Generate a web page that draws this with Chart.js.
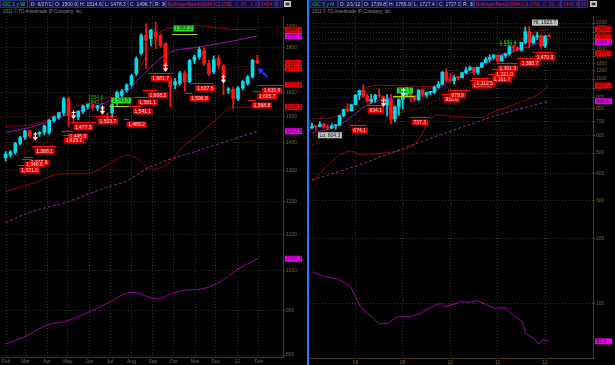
<!DOCTYPE html>
<html>
<head>
<meta charset="utf-8">
<script src="https://cdn.jsdelivr.net/npm/chart.js@4"></script>
<style>
  html, body { margin: 0; padding: 0; background: #000; }
  body { width: 615px; height: 365px; position: relative; overflow: hidden; font-family: "Liberation Sans", Arial, sans-serif; }
  canvas { position: absolute; top: 0; }
  #wk { left: 0; }
  #mo { left: 309px; }
  .cell { position: absolute; top: 0; height: 8px; box-sizing: border-box; border: 1px solid #2c2c7c; background: #0c0c42;
          color: #d4d4d4; font-size: 5px; line-height: 6px; padding: 0 1px; white-space: nowrap; overflow: hidden; }
  .g { color: #22d822; }
  .r { color: #e02020; }
  .copy { position: absolute; top: 9px; font-size: 4.5px; color: #8a8a8a; white-space: nowrap; }
  .icon { position: absolute; top: 1px; width: 7px; height: 6px; background: #9a9a9a; border: 1px solid #cfcfcf; box-sizing: border-box; }
  .icon::after { content: ""; position: absolute; left: 1px; top: 1px; width: 3px; height: 2px; background: #333; }
  #divider { position: absolute; left: 307px; top: 0; width: 2px; height: 365px; background: #1e7cff; }
</style>
</head>
<body>
<canvas id="wk" width="307" height="365"></canvas>
<canvas id="mo" width="306" height="365"></canvas>
<div id="divider"></div>

<div class="cell g" style="left:0;width:28px">/GC 1 y W</div>
<div class="cell" style="left:29px;width:24px">D: 6/27/11</div>
<div class="cell" style="left:53px;width:25px">O: 1500.9</div>
<div class="cell" style="left:78px;width:25px">H: 1514.6</div>
<div class="cell" style="left:103px;width:25px">L: 1478.3</div>
<div class="cell" style="left:128px;width:25px">C: 1496.7</div>
<div class="cell" style="left:153px;width:13px">R: 36.5</div>
<div class="cell r" style="left:166px;width:93px">BollingerBandsSMA (CLOSE, 0, 25, -2.0, 2.0)</div>
<div class="cell r" style="left:259px;width:18px">1454.3</div>
<div class="cell r" style="left:277px;width:6px">1</div>
<div class="icon" style="left:284px"></div>
<div class="copy" style="left:3px">2011 © TD Ameritrade IP Company, Inc.</div>

<div class="cell g" style="left:310px;width:28px">/GC 5 y M</div>
<div class="cell" style="left:338px;width:24px">D: 2/1/12</div>
<div class="cell" style="left:362px;width:25px">O: 1739.8</div>
<div class="cell" style="left:387px;width:25px">H: 1765.9</div>
<div class="cell" style="left:412px;width:25px">L: 1727.4</div>
<div class="cell" style="left:437px;width:24px">C: 1727.9</div>
<div class="cell" style="left:461px;width:13px">R: 38.5</div>
<div class="cell r" style="left:474px;width:87px">BollingerBandsSMA (CLOSE, 0, 25, -2.0, 2.0)</div>
<div class="cell r" style="left:561px;width:18px">1445.9</div>
<div class="cell r" style="left:579px;width:9px">50</div>
<div class="icon" style="left:590px"></div>
<div class="copy" style="left:312px">2011 © TD Ameritrade IP Company, Inc.</div>

<script>
// ---------- weekly panel (1 year, /GC 1 y W) ----------
const wkOpen  = [1346,1356,1365,1398,1420,1445,1426,1433,1439,1439,1484,1497,1515,1572,1509,1499,1521,1540,1549,1534,1540,1501,1515,
                 1559,1588,1609,1632,1680,1772,1859,1843,1876,1859,1819,1659,1631,1638,1683,1645,1740,1756,1784,1725,1688,1749,1713,
                 1609,1612,1572,1618,1638,1666,1740];
const wkHigh  = [1368,1372,1402,1424,1448,1447,1436,1442,1468,1490,1502,1518,1578,1580,1518,1524,1546,1552,1551,1546,1546,1515,1552,
                 1605,1612,1636,1678,1756,1868,1917,1890,1926,1865,1822,1668,1660,1690,1692,1745,1765,1802,1800,1740,1760,1762,1720,
                 1620,1622,1625,1652,1672,1745,1765];
const wkLow   = [1334,1348,1358,1392,1412,1418,1410,1424,1430,1432,1478,1490,1505,1462,1480,1488,1512,1532,1526,1524,1508,1478,1495,
                 1545,1580,1600,1625,1672,1765,1703,1808,1795,1800,1690,1540,1615,1630,1605,1640,1725,1745,1715,1670,1680,1705,1590,
                 1595,1534,1565,1610,1630,1660,1725];
const wkClose = [1359,1367,1398,1420,1445,1426,1414,1439,1464,1486,1499,1515,1572,1503,1497,1521,1544,1549,1536,1544,1515,1496.7,1549,
                 1598,1605,1630,1672,1748,1858,1835,1884,1851,1811,1695,1624,1645,1683,1645,1740,1756,1791,1725,1680,1744,1717,1645,
                 1614,1572,1618,1645,1666,1740,1727.9];

const wkMonthAt = [0.14, 4.14, 8.57, 12.86, 17.29, 21.57, 26, 30.43, 34.71, 39.14, 43.43, 47.86, 52.29];
const wkMonths  = ['Feb', 'Mar', 'Apr', 'May', 'Jun', 'Jul', 'Aug', 'Sep', 'Oct', 'Nov', 'Dec', '12', 'Feb'];
const wkPriceTicks = [800, 900, 1000, 1100, 1200, 1300, 1400, 1500, 1600, 1700, 1800, 1900];

const wkUpperX = [0, 6, 12.9, 19.7, 22, 24.5, 26.6, 29, 32, 37, 40.2, 45, 52];
const wkUpper  = [1462, 1470, 1530, 1570, 1585, 1610, 1660, 1760, 1876, 1902, 1907, 1891, 1886.2];
const wkMidX   = [0, 6, 10, 15.5, 21.8, 26.6, 30, 33.4, 40.2, 45.7, 52];
const wkMid    = [1340, 1380, 1415, 1471, 1515, 1559, 1605, 1645, 1680, 1706, 1712.2];
const wkLowerX = [0, 6, 11.4, 16.6, 20.7, 25.1, 27, 30.3, 33.4, 36.5, 40.2, 43.7, 46.4, 52];
const wkLower  = [1231, 1260, 1290, 1290, 1318, 1355, 1345, 1306, 1324, 1385, 1436, 1493, 1534, 1538.2];
const wkAvgX   = [0, 6, 12.9, 19.7, 25.2, 27.9, 30, 33.4, 40.2, 47.1, 52];
const wkAvg    = [1439, 1463, 1509, 1549, 1605, 1666, 1709, 1772, 1803, 1832, 1855.6];
const wkLongX  = [0, 4.7, 12.9, 17.7, 21.8, 24.4, 30, 40.2, 52];
const wkLong   = [1134, 1164, 1199, 1227, 1250, 1262, 1315, 1374, 1443.5];
const wkSlowX  = [0, 4, 8.8, 12.2, 17, 21.8, 25.9, 31.4, 34.7, 37.5, 40.2, 44.4, 47.8, 52];
const wkSlow   = [824, 840, 867, 874, 895, 922, 944, 928, 943, 950, 952, 971, 1002, 1031.3];

const wkTagText  = ['1,865.2', '1,543.0', '1,681.7', '1,608.2', '1,581.1', '1,541.1', '1,489.2', '1,503.7', '1,477.3', '1,445.0',
                    '1,429.1', '1,388.1', '1,347.9', '1,340.6', '1,321.8', '1,637.6', '1,596.8', '1,631.9', '1,605.7', '1,568.8'];
const wkTagKind  = ['g', 'g', 'r', 'r', 'r', 'r', 'r', 'r', 'r', 'r', 'r', 'r', 'r', 'r', 'r', 'r', 'r', 'r', 'r', 'r'];
const wkTagFrom  = [34.3, 21.4, 29.4, 28.3, 26.5, 25.5, 24.4, 18.3, 13.1, 11.5, 11.9, 5.3, 3.7, 3.3, 2.5, 38.2, 37.2, 52.2, 51.1, 50.1];
const wkTagTo    = [39.6, 26.5, 34.5, 31.4, 29.4, 27.9, 25.5, 22.8, 18.7, 14.0, 13.5, 10.5, 5.7, 5.3, 3.9, 42.9, 38.6, 57.3, 52.6, 51.5];
const wkTagAt    = [34.7, 21.8, 30.0, 29.4, 27.3, 26.3, 25.0, 19.1, 14.0, 12.9, 12.1, 6.0, 4.9, 3.9, 2.9, 39.2, 38.0, 53.0, 52.0, 50.9];
const wkTagPrice = [1865.2, 1543.0, 1681.7, 1608.2, 1581.1, 1541.1, 1489.2, 1503.7, 1477.3, 1445.0, 1429.1, 1388.1, 1347.9, 1340.6,
                    1321.8, 1637.6, 1596.8, 1631.9, 1605.7, 1568.8];
const wkNoteText = ['1554.6', '1543.1'];
const wkNoteAt = [17, 17];
const wkNotePrice = [1578, 1556];
const wkArrows = [6, 14, 20, 33, 45];
const wkAxisVal = [1886.2, 1855.6, 1727.9, 1712.2, 1631.9, 1538.2, 1443.5, 1031.3];
const wkAxisKind = ['r', 'm', 'r', 'r', 'r', 'r', 'm', 'm'];

// ---------- monthly panel (5 years, /GC 5 y M), Feb 2007 .. Feb 2012 ----------
const moOpen  = [652,667,663,680,660,652,668,674,746,795,784,
                 837,926,975,917,866,887,927,917,833,884,718,818,
                 884,928,942,916,884,980,927,955,955,1008,1040,1182,
                 1096,1081,1119,1115,1179,1213,1245,1180,1248,1308,1359,1386,
                 1421,1333,1410,1439,1556,1536,1500,1628,1825,1620,1725,1746,
                 1566,1739.8];
const moHigh  = [690,670,698,690,675,683,678,748,797,848,838,
                 935,977,1033,937,935,935,990,918,934,935,826,890,
                 930,1007,960,917,982,990,959,965,1025,1072,1195,1227,
                 1163,1142,1137,1180,1249,1265,1245,1250,1311,1388,1425,1432,
                 1424,1412,1448,1575,1577,1556,1632,1917,1923.7,1757,1804,1764,
                 1747,1765.9];
const moLow   = [650,637,663,652,642,648,645,670,735,772,782,
                 838,882,905,865,848,860,905,774,740,681,699,749,
                 800,917,865,865,869,913,905,930,940,1001,1035,1074,
                 1072,1044,1086,1114,1165,1202,1155,1157,1242,1308,1330,1360,
                 1308,1328,1380,1417,1462,1478,1480,1603,1535,1601,1673,1522,
                 1537,1727.4];
const moClose = [667,663,680,660,652,668,674,746,795,784,837,
                 926,975,917,866,887,927,917,833,884,718,818,884,
                 928,942,916,884,980,927,955,955,1008,1040,1182,1096,
                 1081,1119,1115,1179,1213,1245,1180,1248,1308,1359,1386,1421,
                 1333,1410,1439,1556,1536,1500,1628,1825,1620,1725,1746,1566,
                 1740,1727.9];

const moYearAt = [11, 23, 35, 47, 59];
const moYears  = ['08', '09', '10', '11', '12'];
const moPriceTicks = [100, 200, 300, 400, 500, 600, 700, 800, 900, 1000, 1100, 1200, 1300, 1400, 1500, 1600, 1700, 1800, 1900, 2000];

const moUpperX = [0, 6.4, 10.6, 13.2, 17.4, 25.8, 31.7, 35.1, 41.8, 45.2, 50.3, 55.4, 60];
const moUpper  = [719, 742, 880, 997, 1029, 1020, 1014, 1128, 1234, 1324, 1527, 1792, 1869];
const moAvgX   = [0, 6.4, 10.6, 13.2, 17.4, 25.8, 31.7, 35.1, 41.8, 45.2, 50.3, 55.4, 60];
const moAvg    = [620, 667, 750, 820, 880, 918, 979, 1089, 1212, 1348, 1473, 1565, 1688.1];
const moLowerX = [0, 6.4, 9.8, 12.4, 17.4, 25.8, 31.7, 35.9, 43.5, 45.2, 48.6, 53.6, 57, 60];
const moLower  = [368, 481, 511, 490, 499, 545, 750, 737, 729, 764, 805, 873, 928, 1027.3];
const moMidX   = [0, 6.4, 10.6, 13.2, 17.4, 25.8, 31.7, 35.9, 41.8, 45.2, 50.3, 55.4, 60];
const moMid    = [545, 610, 680, 730, 755, 790, 880, 930, 1050, 1120, 1260, 1380, 1445.9];
const moLongX  = [0, 10.6, 23.2, 35.9, 48.6, 60];
const moLong   = [375, 432, 526, 639, 764, 868.6];
const moSlowX  = [0, 3, 6.4, 9.8, 12.3, 14, 17, 19, 21.6, 25, 27.5, 30.9, 32.6, 33.4, 35.9, 37.6, 40.2, 41.8, 46.1, 49, 51.1,
                  53.2, 54.1, 56.2, 57.5, 58.5, 60];
const moSlow   = [141, 134, 131, 120, 97, 91, 81, 81, 87, 87.5, 90.5, 98, 100.7, 97, 99.6, 102.5, 101.8, 103.6, 95.5, 96, 88,
                  83, 73, 69, 65, 68.6, 67.1];

const moTagText  = ['921.1', '674.1', '834.1', '737.3', '938.6', '979.9', '1,089.3', '1,112.5', '1,161.7', '1,221.0', '1,301.3',
                    '1,380.7', '1,470.3'];
const moTagKind  = ['g', 'r', 'r', 'r', 'r', 'r', 'r', 'r', 'r', 'r', 'r', 'r', 'r'];
const moTagFrom  = [20.5, 9.6, 13.8, 24.8, 32.9, 34.4, 40.0, 40.5, 44.6, 45.6, 46.8, 51.9, 56.0];
const moTagTo    = [26.1, 13.8, 18.5, 29.9, 35.4, 40.0, 44.6, 45.0, 48.9, 49.6, 52.2, 56.5, 61.0];
const moTagAt    = [21.5, 10.1, 14.2, 25.3, 33.4, 34.9, 40.5, 41.3, 45.6, 46.3, 47.1, 52.7, 56.5];
const moTagPrice = [921.1, 674.1, 834.1, 737.3, 938.6, 979.9, 1089.3, 1112.5, 1161.7, 1221.0, 1301.3, 1380.7, 1470.3];
const moNoteText = ['1,556.4', '1,534.0'];
const moNoteAt = [47.5, 47.5];
const moNotePrice = [1622, 1588];
const moBoxText = ['Hi: 1923.7', 'Lo: 604.3'];
const moBoxAt = [55.7, 1.5];
const moBoxPrice = [1923.7, 604.3];
const moArrows = [18, 23];
const moAxisVal = [1869.0, 1727.9, 1688.1, 1445.9, 1027.3, 868.6, 67.1];
const moAxisKind = ['r', 'r', 'm', 'r', 'r', 'm', 'm'];

// ---------- drawing ----------
const UP = '#00dcec';
const DOWN = '#ff1414';
const TICK = '#7d6a40';
const FONT = '"Liberation Sans", Arial, sans-serif';

function candles(o, h, l, c) {
  const col = c.map((v, i) => (v >= o[i] ? UP : DOWN));
  return [
    { type: 'bar', data: l.map((v, i) => ({ x: i, y: [v, h[i]] })), backgroundColor: col,
      grouped: false, barThickness: 1, order: 2 },
    { type: 'bar', data: o.map((v, i) => ({ x: i, y: [v, c[i]] })), backgroundColor: col,
      grouped: false, barThickness: 3, minBarLength: 1, order: 1 }
  ];
}

function line(xs, ys, color, dash, smooth) {
  return {
    type: 'line', data: xs.map((x, i) => ({ x, y: ys[i] })), borderColor: color, borderWidth: 1,
    borderDash: dash || [], pointRadius: 0, cubicInterpolationMode: smooth ? 'monotone' : 'default',
    tension: 0, order: 5
  };
}

function drawBox(ctx, text, x, y, bg, fg) {
  const w = Math.ceil(ctx.measureText(text).width) + 3;
  ctx.fillStyle = bg;
  ctx.fillRect(x, y, w, 6);
  ctx.fillStyle = fg;
  ctx.fillText(text, x + 1.5, y + 3.3);
  return w;
}

const overlay = {
  id: 'overlay',
  afterDatasetsDraw(chart, args, o) {
    const { ctx, chartArea: a } = chart;
    const xs = chart.scales.x, ys = chart.scales.y;
    ctx.save();
    ctx.beginPath();
    ctx.rect(a.left, a.top, a.right - a.left, a.bottom - a.top);
    ctx.clip();
    ctx.font = '5px ' + FONT;
    ctx.textBaseline = 'middle';

    // level lines with value tags
    o.tagText.forEach((t, n) => {
      const y = Math.round(ys.getPixelForValue(o.tagPrice[n])) + 0.5;
      const x0 = xs.getPixelForValue(o.tagFrom[n]), x1 = xs.getPixelForValue(o.tagTo[n]);
      const bx = xs.getPixelForValue(o.tagAt[n]);
      const green = o.tagKind[n] === 'g';
      ctx.strokeStyle = green ? '#b4d400' : '#ff1010';
      ctx.lineWidth = 1.2;
      ctx.beginPath(); ctx.moveTo(x0, y); ctx.lineTo(x1, y); ctx.stroke();
      if (green) drawBox(ctx, t, bx, y - 9, '#2ee02e', '#063006');
      else drawBox(ctx, t, bx, y + 2, '#e00000', '#ffd8d8');
    });

    // small green study values
    ctx.fillStyle = '#2bb82b';
    o.noteText.forEach((t, n) => ctx.fillText(t, xs.getPixelForValue(o.noteAt[n]), ys.getPixelForValue(o.notePrice[n])));

    // hi / lo bubbles
    (o.boxText || []).forEach((t, n) => {
      const x = xs.getPixelForValue(o.boxAt[n]), y = ys.getPixelForValue(o.boxPrice[n]);
      drawBox(ctx, t, x, n === 0 ? y - 7 : y - 3, '#c4c4c4', '#111');
    });

    // white signal arrows at candle closes
    ctx.strokeStyle = '#ffffff'; ctx.fillStyle = '#ffffff'; ctx.lineWidth = 1;
    o.arrows.forEach((i) => {
      const x = Math.round(xs.getPixelForValue(i)) + 0.5, y = ys.getPixelForValue(o.close[i]);
      ctx.beginPath(); ctx.moveTo(x, y - 7); ctx.lineTo(x, y - 1); ctx.stroke();
      ctx.beginPath(); ctx.moveTo(x - 2, y - 5); ctx.lineTo(x + 2, y - 5); ctx.stroke();
      ctx.beginPath(); ctx.moveTo(x - 2.5, y - 2); ctx.lineTo(x + 2.5, y - 2); ctx.lineTo(x, y + 1.5); ctx.closePath(); ctx.fill();
    });

    // mouse cursor
    if (o.cursor) {
      const x = xs.getPixelForValue(o.cursor[0]), y = ys.getPixelForValue(o.cursor[1]);
      ctx.fillStyle = '#1636ff'; ctx.strokeStyle = '#1636ff'; ctx.lineWidth = 2.2;
      ctx.beginPath(); ctx.moveTo(x, y); ctx.lineTo(x + 6, y + 1); ctx.lineTo(x + 1, y + 6); ctx.closePath(); ctx.fill();
      ctx.beginPath(); ctx.moveTo(x + 3, y + 3); ctx.lineTo(x + 9, y + 9); ctx.stroke();
    }
    ctx.restore();

    // value boxes on the price axis
    ctx.save();
    ctx.font = '5px ' + FONT;
    ctx.textBaseline = 'middle';
    let prev = -100;
    o.axisVal.forEach((v, n) => {
      let y = ys.getPixelForValue(v) - 3;
      if (y < prev + 5.5) y = prev + 5.5;
      prev = y;
      const m = o.axisKind[n] === 'm';
      ctx.fillStyle = m ? '#ee00ee' : '#f00000';
      ctx.fillRect(a.right + 2, y, 17, 6);
      ctx.fillStyle = m ? '#3a003a' : '#3a0000';
      ctx.fillText(v.toFixed(1), a.right + 3.5, y + 3.3);
    });
    ctx.restore();
  }
};

function build(id, cfg) {
  const datasets = candles(cfg.open, cfg.high, cfg.low, cfg.close).concat(cfg.lines);
  return new Chart(document.getElementById(id), {
    type: 'bar',
    data: { datasets },
    plugins: [overlay],
    options: {
      responsive: false,
      devicePixelRatio: 1,
      animation: false,
      layout: { padding: { top: 16, left: cfg.padLeft, right: 0, bottom: 0 } },
      plugins: {
        legend: { display: false },
        tooltip: { enabled: false },
        overlay: cfg.overlay
      },
      scales: {
        x: {
          type: 'linear', min: cfg.xMin, max: cfg.xMax, offset: false, bounds: 'data',
          afterBuildTicks: (s) => { s.ticks = cfg.xTicks.map((v) => ({ value: v })); },
          afterFit: (s) => { s.height = cfg.xHeight; },
          ticks: { autoSkip: false, maxRotation: 0, padding: 2, color: TICK, font: { size: 5, family: FONT },
                   callback: (v, i) => cfg.xLabels[i] },
          grid: { color: '#3a3222', offset: false, drawTicks: false },
          border: { color: '#4a3c22', dash: [1, 2] }
        },
        y: {
          type: 'logarithmic', position: 'right', min: cfg.yMin, max: cfg.yMax, bounds: 'data',
          afterBuildTicks: (s) => { s.ticks = cfg.yTicks.map((v) => ({ value: v })); },
          afterFit: (s) => { s.width = cfg.yWidth; },
          ticks: { autoSkip: false, padding: 1, color: TICK, font: { size: 5, family: FONT },
                   callback: (v) => String(v) },
          grid: { color: '#3a3222', tickLength: 2, tickColor: '#6a5a36' },
          border: { color: '#4a3c22', dash: [1, 2] }
        }
      }
    }
  });
}

build('wk', {
  open: wkOpen, high: wkHigh, low: wkLow, close: wkClose,
  lines: [
    line(wkSlowX, wkSlow, '#a000a8', null, true),
    line(wkLongX, wkLong, '#8c2c96', [3, 2], true),
    line(wkLowerX, wkLower, '#8a0a0a', null, true),
    line(wkMidX, wkMid, '#8a0a0a', [2, 2], true),
    line(wkAvgX, wkAvg, '#a010b0', null, true),
    line(wkUpperX, wkUpper, '#8a0a0a', null, true)
  ],
  xMin: -0.8, xMax: 57.3, xTicks: wkMonthAt, xLabels: wkMonths, xHeight: 8,
  yMin: 796, yMax: 1956, yTicks: wkPriceTicks, yWidth: 24, padLeft: 0,
  overlay: {
    tagText: wkTagText, tagKind: wkTagKind, tagFrom: wkTagFrom, tagTo: wkTagTo, tagAt: wkTagAt, tagPrice: wkTagPrice,
    noteText: wkNoteText, noteAt: wkNoteAt, notePrice: wkNotePrice,
    arrows: wkArrows, close: wkClose, cursor: [52.2, 1705],
    axisVal: wkAxisVal, axisKind: wkAxisKind
  }
});

build('mo', {
  open: moOpen, high: moHigh, low: moLow, close: moClose,
  lines: [
    line(moSlowX, moSlow, '#a000a8', null, false),
    line(moLongX, moLong, '#8c2c96', [3, 2], true),
    line(moLowerX, moLower, '#8a0a0a', null, true),
    line(moMidX, moMid, '#8a0a0a', [2, 2], true),
    line(moAvgX, moAvg, '#a010b0', null, true),
    line(moUpperX, moUpper, '#8a0a0a', null, true)
  ],
  xMin: -0.5, xMax: 71.15, xTicks: moYearAt, xLabels: moYears, xHeight: 7,
  yMin: 56.2, yMax: 2155, yTicks: moPriceTicks, yWidth: 22, padLeft: 1,
  overlay: {
    tagText: moTagText, tagKind: moTagKind, tagFrom: moTagFrom, tagTo: moTagTo, tagAt: moTagAt, tagPrice: moTagPrice,
    noteText: moNoteText, noteAt: moNoteAt, notePrice: moNotePrice,
    boxText: moBoxText, boxAt: moBoxAt, boxPrice: moBoxPrice,
    arrows: moArrows, close: moClose, cursor: null,
    axisVal: moAxisVal, axisKind: moAxisKind
  }
});
</script>
</body>
</html>
